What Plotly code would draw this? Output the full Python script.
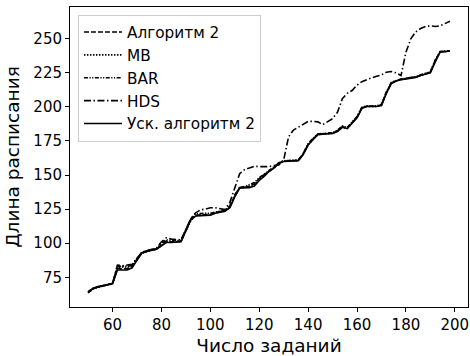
import plotly.graph_objects as go

x_jobs = [50, 52, 54, 56, 58, 60, 62, 64, 66, 68, 70, 72, 74, 76, 78, 80, 82, 84, 86, 88,
          90, 92, 94, 96, 98, 100, 102, 104, 106, 108, 110, 112, 114, 116, 118, 120, 122, 124, 126, 128,
          130, 132, 134, 136, 138, 140, 142, 144, 146, 148, 150, 152, 154, 156, 158, 160, 162, 164, 166, 168,
          170, 172, 174, 176, 178, 180, 182, 184, 186, 188, 190, 192, 194, 196, 198]

alg2 = [64.0, 66.8, 68.0, 69.0, 69.6, 70.4, 81.5, 81.0, 81.5, 83.0,
        88.5, 93.0, 94.2, 95.2, 95.8, 99.0, 101.5, 101.0, 101.0, 101.5,
        109.5, 117.5, 120.5, 121.0, 121.0, 121.0, 122.5, 123.2, 123.8, 127.0,
        135.0, 140.8, 141.0, 142.0, 143.5, 147.5, 150.0, 153.0, 155.5, 158.8,
        160.2, 160.5, 160.6, 160.8, 165.5, 172.5, 176.5, 180.0, 180.3, 180.5,
        180.8, 182.5, 185.5, 184.5, 188.5, 192.5, 199.5, 200.5, 200.5, 200.5,
        201.5, 210.5, 217.5, 219.3, 220.3, 220.8, 221.3, 222.0, 223.3, 224.3,
        225.5, 234.0, 240.5, 240.8, 241.0]

mb = [63.5, 66.4, 67.6, 68.6, 69.4, 70.0, 82.0, 82.5, 82.5, 83.5,
      88.0, 92.5, 93.8, 95.0, 95.5, 98.5, 101.0, 100.8, 100.8, 101.2,
      109.0, 116.5, 120.2, 120.5, 120.5, 120.8, 122.2, 123.0, 123.6, 126.5,
      134.5, 140.5, 140.7, 141.2, 142.5, 146.5, 149.5, 152.8, 155.2, 158.6,
      160.1, 160.4, 160.5, 160.7, 165.2, 172.2, 176.2, 179.8, 180.1, 180.4,
      180.6, 182.2, 185.2, 184.2, 188.2, 192.2, 199.2, 200.4, 200.4, 200.4,
      201.2, 210.2, 217.2, 219.1, 220.1, 220.6, 221.1, 221.8, 223.1, 224.1,
      225.2, 233.5, 240.4, 240.6, 241.0]

bar = [64.2, 67.0, 68.2, 69.2, 69.8, 70.6, 83.0, 83.0, 83.0, 84.0,
       88.8, 93.3, 94.3, 95.3, 96.0, 100.0, 102.5, 102.0, 101.8, 102.0,
       110.0, 118.0, 121.5, 122.0, 122.0, 122.0, 123.0, 123.5, 124.0, 127.5,
       135.5, 141.0, 141.5, 143.0, 144.5, 148.0, 150.5, 153.5, 156.0, 159.0,
       160.5, 160.7, 160.8, 161.0, 166.0, 173.0, 177.0, 180.2, 180.5, 180.7,
       181.0, 183.0, 186.0, 185.0, 189.0, 193.0, 199.8, 200.7, 200.7, 200.7,
       202.0, 211.0, 218.0, 219.5, 220.5, 221.0, 221.5, 222.3, 223.5, 224.5,
       225.8, 234.5, 240.7, 241.0, 241.2]

hds = [64.5, 66.8, 68.0, 69.0, 69.6, 70.5, 84.0, 83.5, 84.0, 84.5,
       89.0, 93.5, 94.5, 95.5, 96.5, 101.0, 104.0, 103.0, 103.0, 102.5,
       110.0, 118.0, 122.3, 124.5, 125.0, 126.0, 126.0, 125.5, 124.7, 130.0,
       140.0, 151.0, 154.0, 155.5, 156.5, 156.2, 156.0, 156.2, 157.0, 157.4,
       161.0, 178.0, 183.0, 185.0, 187.5, 189.4, 189.4, 189.0, 187.0, 189.0,
       191.4, 196.0, 206.0, 210.0, 212.0, 216.0, 218.5, 220.0, 221.5, 222.5,
       223.5, 225.5, 226.0, 225.0, 223.0, 240.0, 250.0, 255.0, 257.5, 259.0,
       259.5, 259.0, 259.5, 261.0, 262.8]

acc_alg2 = [63.7, 66.6, 67.8, 68.8, 69.5, 70.2, 80.4, 80.4, 80.4, 82.0,
            88.0, 93.0, 94.0, 95.0, 95.5, 98.0, 100.5, 100.5, 100.5, 101.0,
            109.0, 117.0, 120.0, 120.0, 120.0, 120.5, 122.0, 123.0, 123.5, 126.0,
            134.0, 140.5, 140.5, 140.8, 142.0, 146.0, 149.0, 152.6, 155.0, 158.5,
            160.0, 160.3, 160.4, 160.6, 165.0, 172.0, 176.0, 179.7, 180.0, 180.3,
            180.5, 182.0, 185.0, 184.0, 188.0, 192.0, 199.0, 200.3, 200.3, 200.3,
            201.0, 210.0, 217.0, 219.0, 220.0, 220.4, 221.0, 221.6, 223.0, 224.0,
            225.0, 233.0, 240.3, 240.5, 241.0]

series_names = ["Алгоритм 2", "MB", "BAR", "HDS", "Уск. алгоритм 2"]
series_values = [alg2, mb, bar, hds, acc_alg2]
series_dash = ["5px,2px", "1.5px,1.5px", "4px,1.5px,1.2px,1.5px,1.2px,1.5px", "7px,2.5px,1.5px,2.5px", "solid"]

x_ticks = [60, 80, 100, 120, 140, 160, 180, 200]
y_ticks = [75, 100, 125, 150, 175, 200, 225, 250]

fig = go.Figure()
for i, (name, vals, dash) in enumerate(zip(series_names, series_values, series_dash)):
    fig.add_trace(go.Scatter(
        x=x_jobs, y=vals, mode="lines", name=name,
        legendgroup=f"g{i}",
        line=dict(color="black", width=1.6, dash=dash),
    ))

font_family = "DejaVu Sans, sans-serif"
fig.update_layout(
    width=470, height=356,
    margin=dict(l=70, r=1, t=7, b=46),
    paper_bgcolor="white", plot_bgcolor="white",
    font=dict(family=font_family, color="black", size=15),
    showlegend=True,
    legend=dict(
        x=0.02, y=0.975, xanchor="left", yanchor="top",
        bgcolor="rgba(255,255,255,0.8)", bordercolor="#cccccc", borderwidth=1,
        font=dict(family=font_family, size=15.3, color="black"),
        tracegroupgap=0,
        itemwidth=38,
    ),
    xaxis=dict(
        range=[42.6, 205.4], tickvals=x_ticks, ticks="outside", ticklen=4,
        tickcolor="black", showgrid=False, zeroline=False,
        showline=True, linecolor="black", linewidth=1, mirror=True,
        tickfont=dict(size=15), ticklabeloverflow="allow",
        title=dict(text="Число заданий", font=dict(size=18.5), standoff=8),
    ),
    yaxis=dict(
        range=[53.2, 273.3], tickvals=y_ticks, ticks="outside", ticklen=4,
        tickcolor="black", showgrid=False, zeroline=False,
        showline=True, linecolor="black", linewidth=1, mirror=True,
        tickfont=dict(size=15),
        title=dict(text="Длина расписания", font=dict(size=18.5), standoff=8),
    ),
)

fig.write_html(
    "out.html",
    config={"displayModeBar": False},
    post_script="document.body.style.margin='0';document.body.style.overflow='hidden';",
)
